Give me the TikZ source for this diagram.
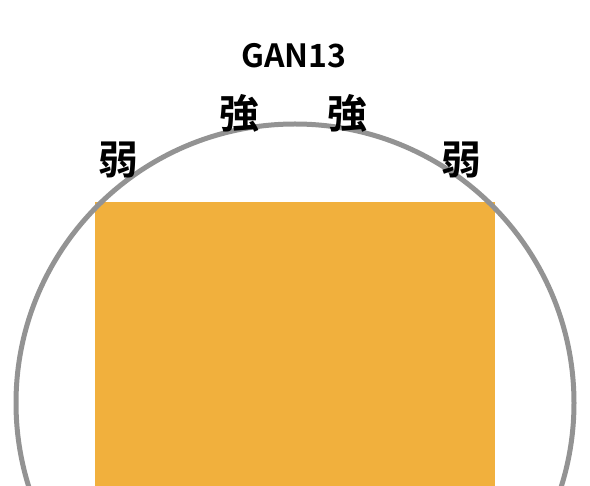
\documentclass[tikz,border=0pt]{standalone}
\usepackage{fontspec}
\newfontfamily\cjk{Noto Sans CJK JP}[BoldFont={Noto Sans CJK JP Bold}]
\definecolor{barorange}{HTML}{F1B03D}
\definecolor{ringgray}{HTML}{939393}
\tikzset{
  word/.style={font=\cjk\bfseries\fontsize{40}{40}\selectfont, inner sep=0pt},
  title/.style={font=\cjk\bfseries\fontsize{32}{32}\selectfont, inner sep=0pt}
}
\begin{document}
\begin{tikzpicture}[x=1pt,y=-1pt]
\useasboundingbox (0,0) rectangle (590,486);
\coordinate (O) at (295,403);

\fill[barorange] (95,202) rectangle (495,486);
\draw[ringgray, line width=5pt] (O) circle (279);

\node[title] (gan) at (294,56) {GAN13};
\node[word] (s1) at (239,113) {強};
\node[word] (s2) at (347,113) {強};
\node[word] (w1) at (118,160) {弱};
\node[word] (w2) at (461,160) {弱};
\end{tikzpicture}
\end{document}
